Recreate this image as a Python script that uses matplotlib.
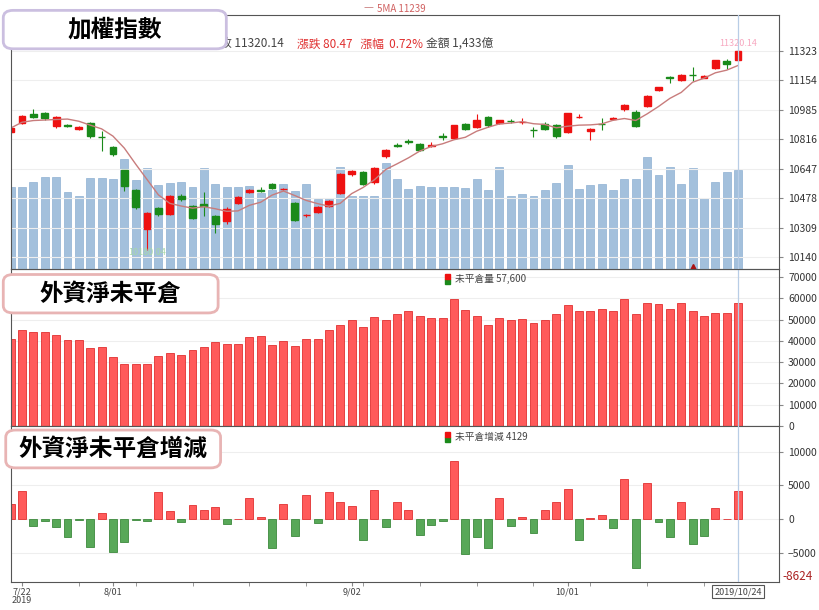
import numpy as np
import pandas as pd
import matplotlib.pyplot as plt
from matplotlib.patches import FancyBboxPatch, Rectangle

plt.rcParams['font.family'] = ['Noto Sans CJK TC', 'DejaVu Sans']

# ---- data ----
opens = [10860, 10912, 10962, 10966, 10893, 10895, 10874, 10909, 10830, 10771,
         10637, 10525, 10301, 10421, 10387, 10492, 10435, 10446, 10374, 10347,
         10452, 10511, 10524, 10559, 10531, 10450, 10382, 10399, 10435, 10507,
         10614, 10628, 10569, 10718, 10782, 10805, 10788, 10780, 10833, 10823,
         10905, 10884, 10945, 10909, 10921, 10913, 10870, 10903, 10897, 10857,
         10944, 10865, 10904, 10934, 10987, 10974, 11004, 11101, 11171, 11157,
         11185, 11168, 11224, 11264, 11268]
closes = [10880, 10947, 10943, 10935, 10941, 10893, 10884, 10832, 10828, 10733,
          10549, 10425, 10391, 10387, 10490, 10473, 10364, 10431, 10330, 10416,
          10485, 10523, 10521, 10534, 10533, 10355, 10384, 10429, 10460, 10616,
          10632, 10559, 10651, 10754, 10780, 10803, 10754, 10782, 10831, 10895,
          10874, 10928, 10895, 10928, 10919, 10915, 10868, 10874, 10832, 10964,
          10946, 10876, 10902, 10936, 11014, 10891, 11065, 11113, 11169, 11185,
          11183, 11180, 11268, 11245, 11320]
highs = [10890, 10955, 10989, 10972, 10948, 10902, 10890, 10915, 10861, 10778,
         10640, 10530, 10400, 10430, 10497, 10500, 10440, 10513, 10380, 10425,
         10490, 10530, 10540, 10565, 10538, 10455, 10390, 10435, 10465, 10620,
         10637, 10633, 10658, 10760, 10795, 10815, 10792, 10800, 10850, 10900,
         10910, 10962, 10950, 10915, 10930, 10935, 10885, 10915, 10902, 10968,
         10960, 10880, 10935, 10945, 11018, 10985, 11070, 11118, 11180, 11190,
         11233, 11185, 11272, 11275, 11325]
lows = [10850, 10905, 10935, 10925, 10880, 10885, 10868, 10825, 10746, 10720,
        10517, 10415, 10180, 10378, 10380, 10462, 10358, 10374, 10278, 10330,
        10445, 10505, 10515, 10528, 10525, 10345, 10370, 10392, 10428, 10500,
        10608, 10552, 10560, 10710, 10770, 10790, 10750, 10770, 10810, 10818,
        10868, 10880, 10885, 10902, 10910, 10905, 10830, 10870, 10825, 10850,
        10940, 10810, 10870, 10925, 10980, 10885, 11000, 11095, 11140, 11150,
        11150, 11165, 11220, 11218, 11262]
volume = [1176, 1176, 1262, 1320, 1330, 1104, 1046, 1306, 1306, 1296, 1589,
          1286, 1450, 1210, 1234, 1253, 1176, 1450, 1224, 1190, 1190, 1200,
          1094, 1142, 1224, 1118, 1224, 1008, 1027, 1474, 1046, 1046, 1056,
          1536, 1296, 1152, 1200, 1190, 1190, 1190, 1166, 1296, 1133, 1474,
          1056, 1080, 1046, 1142, 1234, 1498, 1157, 1214, 1224, 1133, 1296,
          1296, 1613, 1363, 1474, 1224, 1450, 1018, 1262, 1392, 1430]
open_int = [41000, 45200, 44300, 44000, 42700, 40300, 40300, 36400, 37000, 32500,
            28900, 28900, 28900, 33000, 34400, 33400, 35800, 37200, 39400, 38600,
            38600, 41800, 42200, 37800, 40000, 37500, 41000, 40700, 44900, 47600,
            49600, 46500, 51000, 49900, 52400, 53800, 51600, 50900, 50500, 59500,
            54500, 51600, 47400, 50700, 49600, 50200, 48200, 49600, 52400, 57000,
            53800, 54200, 54900, 53800, 59500, 52400, 57800, 57500, 54900, 57800,
            54200, 51600, 53200, 53200, 57600]
oi_change = [2300, 4200, -1000, -300, -1100, -2600, -100, -4100, 900, -4900,
             -3400, -100, -200, 4000, 1200, -400, 2100, 1300, 1800, -700,
             0, 3100, 400, -4300, 2200, -2500, 3600, -500, 4100, 2600,
             2000, -3100, 4300, -1100, 2600, 1400, -2300, -900, -200, 8600,
             -5100, -2600, -4300, 3100, -1000, 400, -2100, 1400, 2600, 4500,
             -3100, 200, 700, -1300, 5900, -7200, 5300, -400, -2600, 2600,
             -3600, -2500, 1600, 0, 4129]
price_ticks = [10140, 10309, 10478, 10647, 10816, 10985, 11154, 11323]
date_ticks = {1: '7/22\n2019', 9: '8/01', 30: '9/02', 49: '10/01'}

RED = '#ff5a5a'
GREEN = '#58a858'
n = len(closes)
x = np.arange(n)
ma5 = pd.Series(closes).rolling(5, min_periods=1).mean()

fig = plt.figure(figsize=(8.2, 6.1), dpi=100)
L, W = 0.013, 0.937
ax1 = fig.add_axes([L, 0.559, W, 0.416])
ax2 = fig.add_axes([L, 0.302, W, 0.257])
ax3 = fig.add_axes([L, 0.046, W, 0.256])

# volume behind the candles
axv = ax1.twinx()
axv.set_ylim(0, 3660)
axv.axis('off')
axv.bar(x, volume, width=0.7, color='#a3c0dc', edgecolor='#8fb1d3', lw=0.5)
ax1.set_zorder(axv.get_zorder() + 1)
ax1.patch.set_visible(False)

for ax in (ax1, ax2, ax3):
    ax.set_xlim(0, 67.6)
    ax.yaxis.tick_right()
    ax.yaxis.set_label_position('right')
    ax.tick_params(axis='y', left=False, labelleft=False, right=True, labelright=True,
                   length=3, labelsize=7.5, labelcolor='#333333', color='#888888')
    ax.tick_params(axis='x', bottom=False, labelbottom=False)
    ax.grid(axis='y', color='#eeeeee', lw=0.8)
    ax.set_axisbelow(True)
    for s in ax.spines.values():
        s.set_color('#555555')
    ax.axvline(n - 1, color='#b8cde6', lw=0.9, zorder=5)

# ---- top: index candles ----
ax1.set_ylim(10072, 11527)
ax1.set_yticks(price_ticks)
for i in range(n):
    up = closes[i] >= opens[i]
    c = '#ee1111' if up else '#1a8a1a'
    ax1.vlines(i, lows[i], highs[i], color=c, lw=0.8)
    lo, hi = min(opens[i], closes[i]), max(opens[i], closes[i])
    ax1.add_patch(Rectangle((i - 0.3, lo), 0.6, max(hi - lo, 2), color=c))
ax1.plot(x, ma5, color='#c87c7c', lw=1)
ax1.text(n - 1, 11350, '11320.14', color='#f7a8c0', fontsize=6.5, ha='center')
ax1.text(12, 10150, '10180.04', color='#a8d8a8', fontsize=6.5, ha='center')
ax1.plot(60, 10085, marker='^', color='#aa1111', ms=5)

fig.text(0.455, 0.986, '—', color='#c87c7c', fontsize=8, ha='right', va='center')
fig.text(0.46, 0.986, '5MA 11239', color='#d06060', fontsize=7, va='center')
fig.text(0.268, 0.928, '收 11320.14', color='#444444', fontsize=8.5, ha='left', va='center')
fig.text(0.362, 0.928, '漲跌 80.47   漲幅  0.72%', color='#e03030', fontsize=8.5, va='center')
fig.text(0.52, 0.928, '金額 1,433億', color='#444444', fontsize=8.5, va='center')

# ---- middle: open interest ----
ax2.bar(x, open_int, width=0.7, color=RED, edgecolor='#e03030', lw=0.6)
ax2.set_ylim(0, 73760)
ax2.set_yticks(range(0, 70001, 10000))
fig.text(0.555, 0.543, '未平倉量 57,600', color='#444444', fontsize=7, va='center')

# ---- bottom: change in open interest ----
cols = [RED if v >= 0 else GREEN for v in oi_change]
edges = ['#e03030' if v >= 0 else '#3d8a3d' for v in oi_change]
ax3.bar(x, oi_change, width=0.7, color=cols, edgecolor=edges, lw=0.6)
ax3.set_ylim(-9265, 13820)
ax3.set_yticks([-5000, 0, 5000, 10000])
ax3.set_xticks(list(date_ticks.keys()))
ax3.set_xticks(np.arange(1, n, 5), minor=True)
ax3.tick_params(axis='x', which='both', bottom=True, labelbottom=True, length=3, pad=1,
                labelsize=6.5, labelcolor='#444444', color='#888888')
ax3.set_xticklabels(list(date_ticks.values()), linespacing=1.0)
ax3.text(1.005, 0.035, '-8624', transform=ax3.transAxes, color='#aa2222', fontsize=8.5, va='center')
ax3.text(n - 1, -10700, '2019/10/24', ha='center', va='center', fontsize=6.5, color='#444444',
         bbox=dict(boxstyle='square,pad=0.25', fc='white', ec='#555555', lw=0.8), clip_on=False)
fig.text(0.555, 0.283, '未平倉增減 4129', color='#444444', fontsize=7, va='center')

# legend colour chips
for yy in (0.543, 0.283):
    fig.patches.append(Rectangle((0.543, yy - 0.008), 0.006, 0.008, color='#1a8a1a', transform=fig.transFigure))
    fig.patches.append(Rectangle((0.543, yy), 0.006, 0.008, color='#ee1111', transform=fig.transFigure))

# ---- title boxes ----
def title_box(x0, y0, w, h, ec, label):
    fig.patches.append(FancyBboxPatch((x0, y0), w, h, boxstyle='round,pad=0,rounding_size=0.012',
                                      fc='white', ec=ec, lw=2, transform=fig.transFigure, zorder=10))
    fig.text(x0 + w / 2, y0 + h / 2, label, ha='center', va='center', fontsize=17,
             fontweight='bold', color='black', zorder=11)

title_box(0.004, 0.92, 0.272, 0.063, '#cbbfe0', '加權指數')
title_box(0.004, 0.487, 0.262, 0.063, '#e8b4b4', '外資淨未平倉')
title_box(0.007, 0.233, 0.262, 0.062, '#e8b4b4', '外資淨未平倉增減')

fig.savefig('out.png', dpi=100)
